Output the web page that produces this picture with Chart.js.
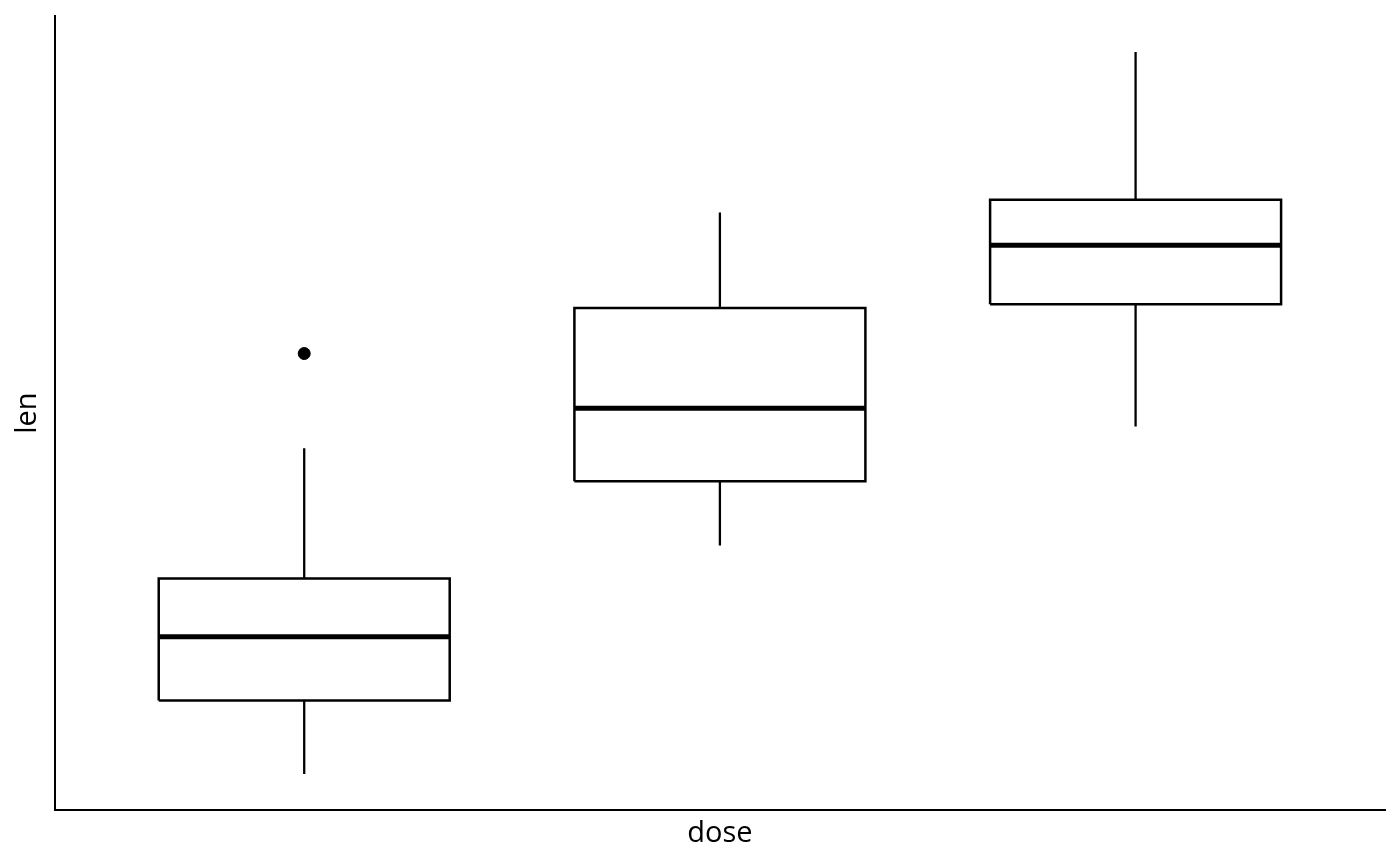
<!DOCTYPE html>
<html>
<head>
<meta charset="utf-8">
<script src="https://cdn.jsdelivr.net/npm/chart.js@4/dist/chart.umd.min.js"></script>
<style>
  html, body { margin: 0; padding: 0; background: #fff; }
  #wrap { width: 1400px; height: 866px; position: relative; }
</style>
</head>
<body>
<div id="wrap"><canvas id="box-canvas"></canvas></div>
<script>
// ToothGrowth len by dose - box stats
const doses = ['0.5', '1', '2'];
const whiskerLow = [4.2, 13.6, 18.5];
const q1 = [7.225, 16.25, 23.525];
const medians = [9.85, 19.25, 25.95];
const q3 = [12.25, 23.375, 27.825];
const whiskerHigh = [17.6, 27.3, 33.9];
const outlierDose = [0];        // index into doses
const outlierLen = [21.5];

const yMin = 2.715, yMax = 35.385;
const BOX_HALF = 0.35;

// every box is drawn as a closed outline, x positions 1..n
var boxData = [];
var whiskerData = [];
var medianData = [];
doses.forEach((d, i) => {
  var x = i + 1;
  boxData.push({x: x - BOX_HALF, y: q1[i]}, {x: x + BOX_HALF, y: q1[i]},
               {x: x + BOX_HALF, y: q3[i]}, {x: x - BOX_HALF, y: q3[i]},
               {x: x - BOX_HALF, y: q1[i]}, {x: x - BOX_HALF, y: null});
  whiskerData.push({x: x, y: whiskerLow[i]}, {x: x, y: q1[i]}, {x: x, y: null});
  whiskerData.push({x: x, y: q3[i]}, {x: x, y: whiskerHigh[i]}, {x: x, y: null});
  medianData.push({x: x - BOX_HALF, y: medians[i]}, {x: x + BOX_HALF, y: medians[i]}, {x: x + BOX_HALF, y: null});
});
var outlierData = outlierDose.map((d, i) => ({x: d + 1, y: outlierLen[i]}));

const ctx = document.getElementById('box-canvas').getContext('2d');
const boxChart = new Chart(ctx, {
  data: {
    datasets: [
      {
        type: 'line',
        label: 'whiskers',
        data: whiskerData,
        borderColor: '#000',
        borderWidth: 2.3,
        borderCapStyle: 'butt',
        pointRadius: 0,
        spanGaps: false,
        order: 3
      },
      {
        type: 'line',
        label: 'box',
        data: boxData,
        borderColor: '#000',
        borderWidth: 2.5,
        borderJoinStyle: 'miter',
        pointRadius: 0,
        spanGaps: false,
        fill: false,
        order: 2
      },
      {
        type: 'line',
        label: 'median',
        data: medianData,
        borderColor: '#000',
        borderWidth: 5,
        borderCapStyle: 'butt',
        pointRadius: 0,
        spanGaps: false,
        order: 1
      },
      {
        type: 'scatter',
        label: 'outliers',
        data: outlierData,
        backgroundColor: '#000',
        borderColor: '#000',
        pointRadius: 6,
        order: 0
      }
    ]
  },
  options: {
    responsive: true,
    maintainAspectRatio: false,
    animation: false,
    devicePixelRatio: 1,
    layout: {
      padding: { top: 16, right: 15, left: 0, bottom: 15 }
    },
    plugins: {
      legend: { display: false },
      tooltip: { enabled: false },
      title: { display: false }
    },
    scales: {
      x: {
        type: 'linear',
        min: 0.4,
        max: 3.6,
        offset: false,
        grid: { display: false, drawTicks: false },
        border: { display: true, color: '#000', width: 2 },
        ticks: { display: false },
        title: {
          display: true,
          text: 'dose',
          color: '#000',
          font: { family: 'Open Sans', size: 29 },
          padding: { top: 6, bottom: 0 }
        }
      },
      y: {
        type: 'linear',
        min: yMin,
        max: yMax,
        grid: { display: false, drawTicks: false },
        border: { display: true, color: '#000', width: 2 },
        ticks: { display: false },
        title: {
          display: true,
          text: 'len',
          color: '#000',
          font: { family: 'Open Sans', size: 29 },
          padding: { top: 10, bottom: 10 }
        }
      }
    }
  }
});
</script>
</body>
</html>
